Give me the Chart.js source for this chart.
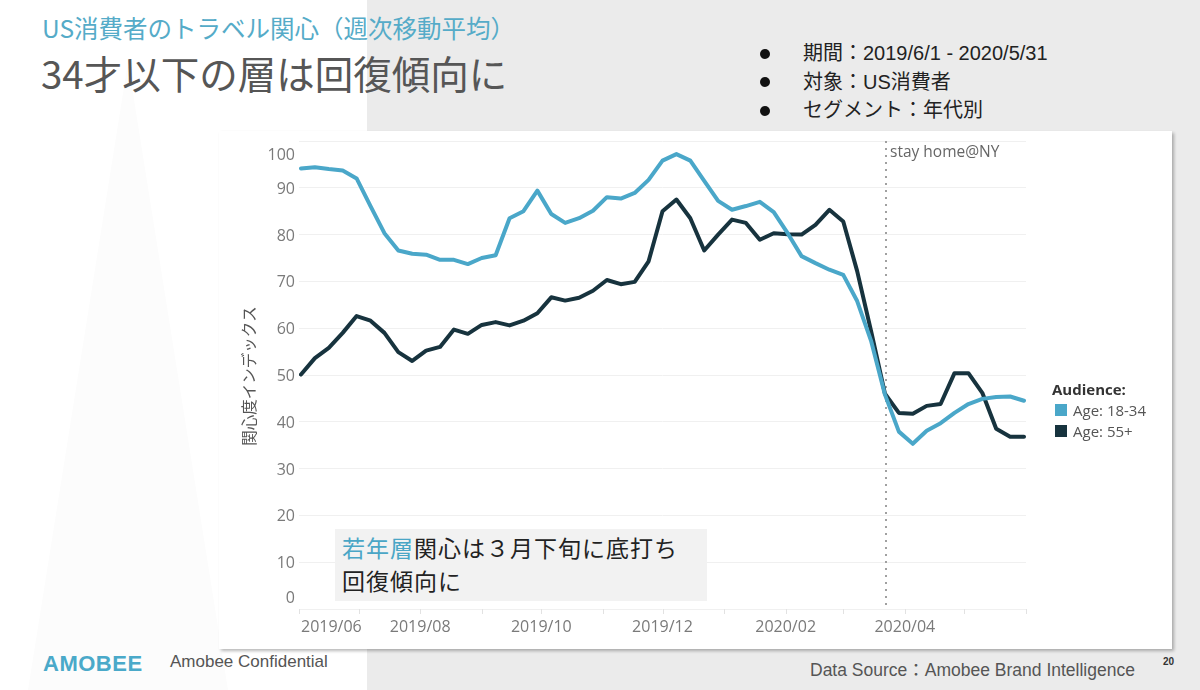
<!DOCTYPE html>
<html lang="ja">
<head>
<meta charset="utf-8">
<title>US消費者のトラベル関心</title>
<script src="https://cdn.jsdelivr.net/npm/chart.js@4.4.1/dist/chart.umd.min.js"></script>
<style>
  html, body { margin: 0; padding: 0; }
  body {
    width: 1200px; height: 690px; position: relative; overflow: hidden;
    background: #fff;
    font-family: 'Liberation Sans', 'Noto Sans CJK JP', sans-serif;
  }
  .gray { position: absolute; left: 367px; top: 0; width: 833px; height: 690px; background: #ebebeb; }
  .peak { position: absolute; left: 28px; top: 62px; width: 200px; height: 628px; background: #fcfcfc;
          clip-path: polygon(50% 0, 100% 100%, 0 100%); }
  .t1 { position: absolute; left: 42px; top: 14px; font-size: 24.5px; line-height: 28px; color: #55abc8;
        font-family: 'Noto Sans CJK JP', sans-serif; white-space: nowrap; }
  .t2 { position: absolute; left: 41px; top: 50px; font-size: 38.5px; line-height: 44px; color: #565656;
        font-family: 'Noto Sans CJK JP', sans-serif; white-space: nowrap; }
  .bullets { position: absolute; left: 760px; top: 39px; font-size: 20px; color: #222; }
  .bullets div { height: 28.5px; line-height: 28.5px; position: relative; padding-left: 43px; white-space: nowrap; }
  .bullets div::before { content: ''; position: absolute; left: 0; top: 9.5px; width: 10px; height: 10px;
                         border-radius: 50%; background: #111; }
  .box { position: absolute; left: 219px; top: 131px; width: 953px; height: 518px; background: #fff;
         box-shadow: 2px 2px 3px rgba(0,0,0,0.28); }
  #chart { position: absolute; left: 219px; top: 131px; }
  .note { position: absolute; left: 335px; top: 529px; height: 72px; background: #f2f2f2;
          padding-left: 7px; font-family: 'Noto Sans CJK JP', sans-serif; font-size: 23px; line-height: 33px;
          letter-spacing: 1px; color: #222; padding-top: 2px; box-sizing: border-box; width: 372px; }
  .note b { font-weight: normal; color: #4aa6c6; }
  .legend { position: absolute; left: 1052px; top: 378px; font-family: 'Open Sans', sans-serif; color: #555; font-size: 15px; }
  .legend .ttl { font-weight: bold; color: #333; height: 22px; line-height: 22px; }
  .legend .it { height: 21px; line-height: 21px; padding-left: 21px; position: relative; }
  .legend .it span { position: absolute; left: 3px; top: 4px; width: 12px; height: 12px; }
  .foot { position: absolute; white-space: nowrap; color: #555; }
</style>
</head>
<body>
<div class="gray"></div>
<div class="peak"></div>
<div class="t1">US消費者のトラベル関心（週次移動平均）</div>
<div class="t2">34才以下の層は回復傾向に</div>
<div class="bullets">
  <div>期間：2019/6/1 - 2020/5/31</div>
  <div>対象：US消費者</div>
  <div>セグメント：年代別</div>
</div>
<div class="box"></div>
<canvas id="chart" width="953" height="518"></canvas>
<div class="note"><b>若年層</b>関心は３月下旬に底打ち<br>回復傾向に</div>
<div class="legend">
  <div class="ttl">Audience:</div>
  <div class="it"><span style="background:#4aa7c9"></span>Age: 18-34</div>
  <div class="it"><span style="background:#17333e"></span>Age: 55+</div>
</div>
<div class="foot" style="left:43px;top:651px;font-size:22px;font-weight:bold;color:#4aa9c9;letter-spacing:0.5px;">AMOBEE</div>
<div class="foot" style="left:170px;top:652px;font-size:17px;">Amobee Confidential</div>
<div class="foot" style="left:810px;top:656px;font-size:17.5px;">Data Source：Amobee Brand Intelligence</div>
<div class="foot" style="left:1163px;top:656px;font-size:10px;font-weight:bold;color:#333;">20</div>

<script>
// week ending dates (weekly moving average)
const weekDates = [
  '2019-06-02', '2019-06-09', '2019-06-16', '2019-06-23', '2019-06-30',
  '2019-07-07', '2019-07-14', '2019-07-21', '2019-07-28',
  '2019-08-04', '2019-08-11', '2019-08-18', '2019-08-25',
  '2019-09-01', '2019-09-08', '2019-09-15', '2019-09-22', '2019-09-29',
  '2019-10-06', '2019-10-13', '2019-10-20', '2019-10-27',
  '2019-11-03', '2019-11-10', '2019-11-17', '2019-11-24',
  '2019-12-01', '2019-12-08', '2019-12-15', '2019-12-22', '2019-12-29',
  '2020-01-05', '2020-01-12', '2020-01-19', '2020-01-26',
  '2020-02-02', '2020-02-09', '2020-02-16', '2020-02-23',
  '2020-03-01', '2020-03-08', '2020-03-15', '2020-03-22', '2020-03-29',
  '2020-04-05', '2020-04-12', '2020-04-19', '2020-04-26',
  '2020-05-03', '2020-05-10', '2020-05-17', '2020-05-24', '2020-05-31'
];

const age18to34 = [
  94.1, 94.4, 94.0, 93.7, 92.0, 86.1, 80.3, 76.6, 75.9, 75.7,
  74.6, 74.6, 73.7, 75.0, 75.6, 83.5, 85.0, 89.4, 84.4, 82.5,
  83.5, 85.1, 88.0, 87.7, 88.9, 91.7, 95.8, 97.2, 95.8, 91.5,
  87.2, 85.3, 86.1, 87.0, 84.8, 80.3, 75.4, 73.9, 72.5, 71.4,
  65.8, 57.3, 45.8, 37.9, 35.3, 38.1, 39.7, 41.9, 43.8, 44.9,
  45.3, 45.4, 44.5
];

const age55plus = [
  50.1, 53.6, 55.8, 59.0, 62.6, 61.6, 59.0, 54.9, 53.0, 55.2,
  56.0, 59.7, 58.8, 60.7, 61.3, 60.6, 61.6, 63.2, 66.6, 65.9,
  66.5, 68.0, 70.3, 69.4, 69.9, 74.3, 85.0, 87.5, 83.5, 76.6,
  80.0, 83.2, 82.5, 78.9, 80.3, 80.1, 80.0, 82.1, 85.3, 82.8,
  72.2, 59.4, 46.0, 41.9, 41.7, 43.4, 43.8, 50.4, 50.4, 46.2,
  38.5, 36.8, 36.8
];

const monthStarts = [
  '2019-06-01', '2019-07-01', '2019-08-01', '2019-09-01', '2019-10-01', '2019-11-01', '2019-12-01',
  '2020-01-01', '2020-02-01', '2020-03-01', '2020-04-01', '2020-05-01', '2020-06-01'
];
const xTickDates = ['2019-06-01', '2019-08-01', '2019-10-01', '2019-12-01', '2020-02-01', '2020-04-01'];
const xTickLabels = ['2019/06', '2019/08', '2019/10', '2019/12', '2020/02', '2020/04'];
const yTicks = [0, 10, 20, 30, 40, 50, 60, 70, 80, 90, 100];
const stayHomeDate = '2020-03-22';

const START = Date.UTC(2019, 5, 1);
function dayOf(s) {
  const p = s.split('-').map(Number);
  return (Date.UTC(p[0], p[1] - 1, p[2]) - START) / 86400000;
}

const tickFont = '16px "Open Sans", sans-serif';

// axis labels, month ticks, the stay-home marker
const decor = {
  id: 'decor',
  beforeDatasetsDraw(chart) {
    const { ctx, chartArea: a, scales: { x, y } } = chart;
    ctx.save();

    ctx.strokeStyle = '#e2e2e2';
    ctx.lineWidth = 1;
    monthStarts.forEach(d => {
      const px = Math.round(x.getPixelForValue(dayOf(d))) + 0.5;
      ctx.beginPath();
      ctx.moveTo(px, a.bottom);
      ctx.lineTo(px, a.bottom + 5);
      ctx.stroke();
    });

    const sx = Math.round(x.getPixelForValue(dayOf(stayHomeDate))) + 1;
    ctx.strokeStyle = '#a0a0a0';
    ctx.lineWidth = 2;
    ctx.setLineDash([2, 5]);
    ctx.beginPath();
    ctx.moveTo(sx, a.top);
    ctx.lineTo(sx, a.bottom);
    ctx.stroke();
    ctx.setLineDash([]);

    ctx.fillStyle = '#666';
    ctx.font = '15.5px "Open Sans", sans-serif';
    ctx.textAlign = 'left';
    ctx.textBaseline = 'middle';
    ctx.fillText('stay home@NY', sx + 4, a.top + 12);

    // y tick labels, end labels pulled inside like the original
    ctx.fillStyle = '#7a7a7a';
    ctx.font = tickFont;
    ctx.textAlign = 'right';
    yTicks.forEach(v => {
      let py = y.getPixelForValue(v);
      py = Math.min(Math.max(py, a.top + 13), a.bottom - 12);
      ctx.fillText(String(v), a.left - 4, py + 1.5);
    });

    // x tick labels
    ctx.textAlign = 'left';
    xTickDates.forEach((d, i) => {
      const w = ctx.measureText(xTickLabels[i]).width;
      let left = x.getPixelForValue(dayOf(d)) - w / 2;
      left = Math.max(left, a.left + 2);
      left = Math.min(left, a.right - w);
      ctx.fillText(xTickLabels[i], left, a.bottom + 18);
    });

    // y axis title
    ctx.save();
    ctx.translate(a.left - 50, (a.top + a.bottom) / 2 + 1);
    ctx.rotate(-Math.PI / 2);
    ctx.textAlign = 'center';
    ctx.fillStyle = '#555';
    ctx.font = '15.5px "Noto Sans CJK JP", sans-serif';
    ctx.fillText('関心度インデックス', 0, 0);
    ctx.restore();

    ctx.restore();
  }
};

const toPoints = arr => arr.map((v, i) => ({ x: dayOf(weekDates[i]), y: v }));

new Chart(document.getElementById('chart'), {
  type: 'line',
  data: {
    datasets: [
      {
        label: 'Age: 18-34',
        data: toPoints(age18to34),
        borderColor: '#4aa7c9',
        borderWidth: 4,
        pointRadius: 0,
        tension: 0,
        borderJoinStyle: 'round',
        borderCapStyle: 'round',
      },
      {
        label: 'Age: 55+',
        data: toPoints(age55plus),
        borderColor: '#17333e',
        borderWidth: 4,
        pointRadius: 0,
        tension: 0,
        borderJoinStyle: 'round',
        borderCapStyle: 'round',
      },
    ],
  },
  options: {
    responsive: false,
    animation: false,
    devicePixelRatio: 1,
    layout: { padding: { left: 80, top: 10, right: 146, bottom: 40 } },
    plugins: { legend: { display: false }, tooltip: { enabled: false } },
    scales: {
      x: {
        type: 'linear',
        min: 0,
        max: dayOf('2020-06-01'),
        grid: { display: false, drawTicks: false },
        border: { display: false },
        ticks: { display: false },
      },
      y: {
        min: 0,
        max: 100,
        grid: { color: '#f0f0f0', lineWidth: 1, drawTicks: false },
        border: { display: false },
        ticks: { display: false, stepSize: 10 },
      },
    },
  },
  plugins: [decor],
});
</script>
</body>
</html>
